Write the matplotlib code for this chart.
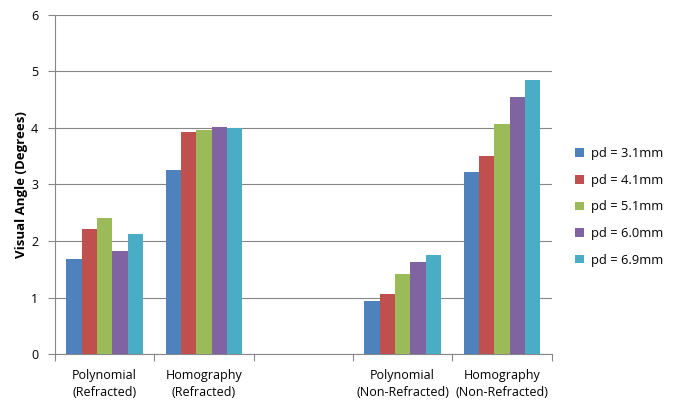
import numpy as np
import matplotlib
matplotlib.use("Agg")
import matplotlib.pyplot as plt
from matplotlib.ticker import FixedLocator, NullFormatter

categories = ["Polynomial\n(Refracted)", "Homography\n(Refracted)", "",
              "Polynomial\n(Non-Refracted)", "Homography\n(Non-Refracted)"]
series_names = ["pd = 3.1mm", "pd = 4.1mm", "pd = 5.1mm", "pd = 6.0mm", "pd = 6.9mm"]
pd31 = [1.69, 3.26, np.nan, 0.93, 3.22]
pd41 = [2.22, 3.93, np.nan, 1.07, 3.51]
pd51 = [2.41, 3.96, np.nan, 1.41, 4.07]
pd60 = [1.82, 4.01, np.nan, 1.62, 4.55]
pd69 = [2.13, 3.99, np.nan, 1.76, 4.85]
series = [pd31, pd41, pd51, pd60, pd69]
colors = ["#4F81BD", "#C0504D", "#9BBB59", "#8064A2", "#4BACC6"]
yticks = [0, 1, 2, 3, 4, 5, 6]

plt.rcParams['font.family'] = ['Open Sans', 'DejaVu Sans']

fig = plt.figure(figsize=(6.73, 4.01), dpi=100)
ax = fig.add_axes([0.0817, 0.117, 0.738, 0.846])

n = len(series)
w = 1.0 / (n + 1.5)
x = np.arange(len(categories))
for i, (vals, c, name) in enumerate(zip(series, colors, series_names)):
    ax.bar(x + (i - (n - 1) / 2) * w, vals, width=w, color=c, label=name,
           edgecolor='none', zorder=3)

ax.set_xlim(-0.5, len(categories) - 0.5)
ax.set_ylim(0, 6)
ax.set_yticks(yticks)
ax.set_yticklabels([str(t) for t in yticks], fontsize=9)
ax.yaxis.grid(True, color="#878787", linewidth=0.8, zorder=0)
ax.tick_params(axis='y', length=5, color="#878787", pad=7)

ax.xaxis.set_major_locator(FixedLocator(np.arange(-0.5, len(categories), 1.0)))
ax.xaxis.set_major_formatter(NullFormatter())
ax.xaxis.set_minor_locator(FixedLocator(x))
ax.set_xticklabels(categories, minor=True, fontsize=9, linespacing=1.4)
ax.tick_params(axis='x', which='major', length=5, color="#878787")
ax.tick_params(axis='x', which='minor', length=0, pad=11)

for s in ['top', 'right']:
    ax.spines[s].set_visible(False)
for s in ['left', 'bottom']:
    ax.spines[s].set_color("#878787")
    ax.spines[s].set_linewidth(0.8)

ax.set_ylabel("Visual Angle (Degrees)", fontsize=9.5, fontweight='bold', labelpad=2)

ax.legend(loc='center left', bbox_to_anchor=(0.855, 0.484),
          bbox_transform=fig.transFigure, frameon=False,
          fontsize=9.3, handlelength=0.65, handleheight=0.65, handletextpad=0.55,
          labelspacing=1.05, borderaxespad=0, borderpad=0)

fig.savefig("out.png", dpi=100)
